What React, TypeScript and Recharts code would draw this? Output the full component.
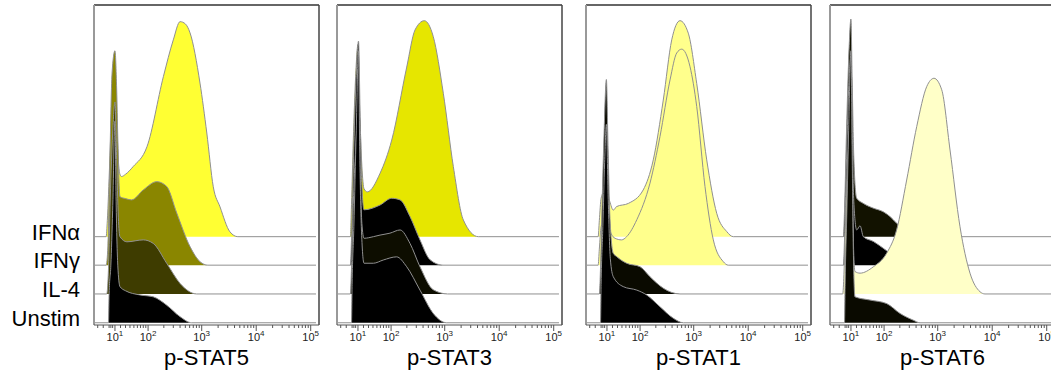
import { Area, AreaChart, ReferenceLine, XAxis, YAxis } from "recharts";

// Staggered p-STAT histograms (biexponential x axis), one panel per readout.
// Each point: [fluorescence intensity, height in % of plot height above its row baseline].
type Pt = [number, number];

const ROWS = ["IFNα", "IFNγ", "IL-4", "Unstim"];
const ROW_BASE = [27.6, 18.7, 9.7, 0.7];

const MAJOR_EXP = [1, 2, 3, 4, 5];
const MINOR_TICKS = [
  -20, -10, 0, 3, 6, 20, 30, 40, 50, 60, 70, 80, 90, 200, 300, 400, 500, 600, 700, 800, 900,
  2000, 3000, 4000, 5000, 6000, 7000, 8000, 9000, 20000, 30000, 40000, 50000, 60000, 70000,
  80000, 90000,
];

// p-STAT5
const S5_IFNA: Pt[] = [
  [-27, 0], [-5, 0], [-3, 5], [1, 23], [5, 42], [10, 55], [13, 38], [16, 24], [19, 19.5],
  [22, 18.8], [30, 19.5], [48, 21.9], [95, 28.1], [196, 50], [300, 61.5], [400, 67.2],
  [500, 66.5], [610, 63.7], [930, 48], [1240, 32.4], [1630, 15.6], [2170, 9.3], [3300, 1.5],
  [4600, 0], [125000, 0],
];
const S5_IFNG: Pt[] = [
  [-27, 0], [-5, 0], [-2, 6], [1, 30], [5, 60], [10, 67], [13, 55], [15, 40], [17, 27],
  [19, 21.4], [30, 20.8], [44, 20.4], [80, 23.5], [147, 26.1], [226, 24.6], [347, 16.3],
  [610, 5.8], [930, 1.1], [1300, 0], [125000, 0],
];
const S5_IL4: Pt[] = [
  [-27, 0], [-4, 0], [-1, 8], [2, 30], [6, 50], [10, 60], [13, 42], [16, 24], [19, 17.9],
  [33, 16.3], [80, 16.9], [126, 15.8], [226, 9.6], [400, 3.3], [810, 0], [125000, 0],
];
const S5_UNSTIM: Pt[] = [
  [-27, 0], [-1, 0], [0, 9], [3, 18], [6, 35], [10, 63], [12, 38], [15, 18], [19, 11.3],
  [30, 10], [68, 8.7], [126, 8.1], [226, 5.5], [400, 1.9], [655, 0], [125000, 0],
];

// p-STAT3
const S3_IFNA: Pt[] = [
  [-27, 0], [-3, 0], [-1, 10], [2, 30], [6, 50], [10, 60], [13, 40], [17, 22], [21, 15],
  [27.5, 14], [59, 19.8], [103, 30.2], [199, 53], [284, 64.6], [422, 67.5], [617, 62.5],
  [943, 44.8], [1440, 21.9], [2200, 5.2], [4140, 0], [125000, 0],
];
const S3_IFNG: Pt[] = [
  [-27, 0], [-3, 0], [-1, 8], [2, 30], [6, 55], [11, 70], [14, 45], [17, 25], [21, 17.3],
  [59, 18.8], [103, 20.9], [149, 20.4], [229, 15.2], [351, 7.9], [537, 1.7], [930, 0],
  [125000, 0],
];
const S3_IL4: Pt[] = [
  [-27, 0], [-3, 0], [-1, 8], [2, 28], [6, 45], [11, 57], [14, 38], [17, 22], [21, 17.4],
  [41, 17.9], [59, 18.4], [95, 19], [149, 20], [229, 15.8], [351, 8.5], [617, 1.3], [1130, 0],
  [125000, 0],
];
const S3_UNSTIM: Pt[] = [
  [-27, 0], [-1, 0], [0, 12], [3, 30], [7, 60], [11, 85], [13, 55], [16, 30], [21, 18.6],
  [41, 18.6], [69, 19.6], [128, 20.6], [199, 17.5], [351, 10.2], [617, 2.9], [1090, 0],
  [125000, 0],
];

// p-STAT1
const S1_IFNA: Pt[] = [
  [-27, 0], [-5, 0], [-3, 5], [0, 12], [5, 14], [10, 14], [15, 11], [21.5, 8.3], [28, 9.4],
  [57, 10.4], [115, 14.6], [179, 24], [275, 42.7], [394, 61.5], [560, 67.5], [795, 63.6],
  [1135, 47.9], [1733, 24], [2645, 7.3], [4035, 1.6], [5330, 0], [125000, 0],
];
const S1_IFNG: Pt[] = [
  [-27, 0], [-5, 0], [-3, 5], [0, 12], [5, 14], [10, 14], [17, 10], [25, 8.4], [39, 7.9],
  [52, 8.9], [86, 14.2], [155, 25.6], [239, 40.2], [367, 57.9], [487, 66.3], [602, 67.5],
  [856, 62], [1135, 49.6], [1610, 24.6], [2290, 7.9], [3490, 1.1], [4300, 0], [125000, 0],
];
const S1_IL4: Pt[] = [
  [-27, 0], [-3, 0], [-1, 8], [2, 30], [5, 50], [9, 67], [12, 45], [15, 25], [21.5, 12.7],
  [28, 11.7], [52, 9.6], [100, 8.5], [155, 5.4], [275, 1.8], [560, 0], [125000, 0],
];
const S1_UNSTIM: Pt[] = [
  [-27, 0], [-1, 0], [0, 12], [3, 30], [6, 50], [9, 62], [12, 40], [16, 20], [21.5, 14.4],
  [43, 11.3], [86, 10.2], [134, 8.7], [239, 5], [422, 1.4], [645, 0], [125000, 0],
];

// p-STAT6
const S6_IFNA: Pt[] = [
  [-27, 0], [-3, 0], [-1, 8], [2, 30], [6, 55], [10, 68], [12, 50], [15, 25], [20.4, 12],
  [34, 10.4], [60, 8.9], [96, 7.8], [130, 6.3], [174, 4.2], [250, 2], [400, 0], [125000, 0],
];
const S6_IFNG: Pt[] = [
  [-27, 0], [-3, 0], [-1, 8], [2, 30], [6, 55], [10, 65], [12, 45], [15, 20], [20.4, 11],
  [27, 12.3], [34, 8.9], [60, 7.4], [96, 5.3], [150, 3], [250, 1], [400, 0], [125000, 0],
];
const S6_IL4: Pt[] = [
  [-27, 0], [-4, 0], [-2, 6], [1, 25], [5, 45], [10, 55], [13, 30], [15, 12], [17.2, 7],
  [27, 6.5], [60, 8.5], [112, 12.7], [174, 20], [268, 35.6], [411, 52.3], [628, 64.8],
  [856, 67.4], [1185, 63.8], [1683, 45], [2565, 21], [3915, 6.5], [5970, 0.7], [7370, 0],
  [125000, 0],
];
const S6_UNSTIM: Pt[] = [
  [-27, 0], [-1, 0], [0, 12], [3, 35], [6, 60], [10, 85], [12, 55], [14, 25], [17.2, 8.1],
  [50, 7.1], [112, 6], [202, 2.9], [356, 0.8], [472, 0], [125000, 0],
];

const PANELS = [
  {
    title: "p-STAT5",
    left: 94,
    series: [S5_IFNA, S5_IFNG, S5_IL4, S5_UNSTIM],
    fills: ["#ffff33", "#8a8600", "#3e3c00", "#000000"],
  },
  {
    title: "p-STAT3",
    left: 337,
    series: [S3_IFNA, S3_IFNG, S3_IL4, S3_UNSTIM],
    fills: ["#e6e600", "#000000", "#0d0d00", "#000000"],
  },
  {
    title: "p-STAT1",
    left: 586,
    series: [S1_IFNA, S1_IFNG, S1_IL4, S1_UNSTIM],
    fills: ["#ffff8c", "#ffff8c", "#0a0a00", "#000000"],
  },
  {
    title: "p-STAT6",
    left: 830,
    series: [S6_IFNA, S6_IFNG, S6_IL4, S6_UNSTIM],
    fills: ["#121200", "#000000", "#ffffc8", "#0a0a00"],
  },
];

// biexponential-like display transform (asinh), in decades
const tf = (v: number) => Math.asinh(v / 40) / Math.LN10;
const X_MIN = -0.277;
const X_MAX = 3.851;

const PLOT_W = 225;
const CHART_H = 372;
const AXIS_Y = 325;

const majorT = MAJOR_EXP.map((e) => tf(10 ** e));
const TICKS = [...MINOR_TICKS.map(tf), ...majorT];

function AxisTick(props: any) {
  const { x, payload } = props;
  const idx = majorT.findIndex((t) => Math.abs(t - payload.value) < 1e-9);
  const major = idx >= 0;
  return (
    <g>
      <line x1={x} x2={x} y1={AXIS_Y} y2={AXIS_Y + (major ? 6 : 3)} stroke="#555" />
      {major && (
        <text x={x} y={341} textAnchor="middle" fontSize={11} fill="#222">
          <tspan>10</tspan>
          <tspan dy={-5} fontSize={8}>
            {MAJOR_EXP[idx]}
          </tspan>
        </text>
      )}
    </g>
  );
}

function RowLabel(props: any) {
  const { y, index } = props;
  const name = [...ROWS].reverse()[index] ?? "";
  return (
    <text x={80} y={y + 3} textAnchor="end" fontSize={22} fill="#000">
      {name}
    </text>
  );
}

function Panel({ p, first }: { p: (typeof PANELS)[number]; first: boolean }) {
  const yw = first ? 92 : 0;
  const width = 2 + yw + PLOT_W + 2;
  return (
    <div style={{ position: "absolute", left: p.left - 2 - yw, top: 0 }}>
      <AreaChart width={width} height={CHART_H} margin={{ top: 5, right: 2, left: 2, bottom: 0 }}>
        <XAxis
          type="number"
          dataKey="x"
          domain={[X_MIN, X_MAX]}
          allowDataOverflow
          ticks={TICKS}
          interval={0}
          tickLine={false}
          tick={<AxisTick />}
          axisLine={{ stroke: "#555" }}
          height={47}
          label={{ value: p.title, position: "insideBottom", offset: 7, fontSize: 22, fill: "#000" }}
        />
        {first ? (
          <YAxis
            type="number"
            domain={[0, 100]}
            ticks={[...ROW_BASE].reverse()}
            interval={0}
            width={yw}
            axisLine={false}
            tickLine={false}
            tick={<RowLabel />}
          />
        ) : (
          <YAxis type="number" domain={[0, 100]} hide />
        )}
        {p.series.map((pts, i) => (
          <Area
            key={ROWS[i]}
            data={pts.map(([v, n]) => ({ x: tf(v), y: ROW_BASE[i] + n }))}
            dataKey="y"
            baseValue={ROW_BASE[i]}
            type="monotone"
            fill={p.fills[i]}
            fillOpacity={1}
            stroke="#909090"
            strokeWidth={1}
            dot={false}
            activeDot={false}
            isAnimationActive={false}
          />
        ))}
        <ReferenceLine y={100} stroke="#333" strokeWidth={1.5} />
        <ReferenceLine x={X_MAX} stroke="#444" strokeWidth={1.5} />
        <ReferenceLine x={X_MIN} stroke="#999" strokeWidth={2} />
      </AreaChart>
    </div>
  );
}

export default function App() {
  return (
    <div
      style={{
        position: "absolute",
        left: 0,
        top: 0,
        width: 1051,
        height: 372,
        overflow: "hidden",
        background: "#fff",
        fontFamily: "'Liberation Sans', Arial, sans-serif",
      }}
    >
      {PANELS.map((p, i) => (
        <Panel key={p.title} p={p} first={i === 0} />
      ))}
    </div>
  );
}
